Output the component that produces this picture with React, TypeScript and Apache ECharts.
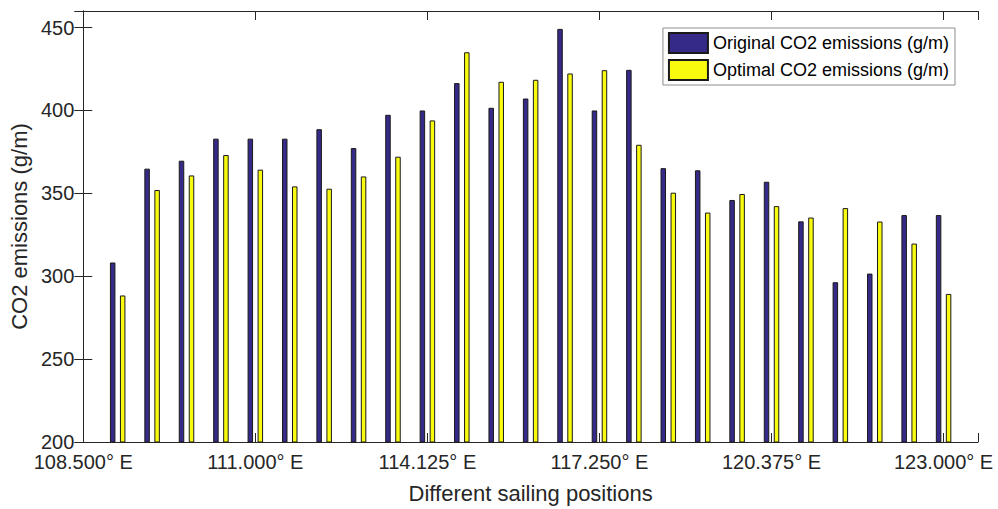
import React, { useEffect, useRef } from "react";
import * as echarts from "echarts";

const positions = [1, 2, 3, 4, 5, 6, 7, 8, 9, 10, 11, 12, 13, 14, 15, 16, 17, 18, 19, 20, 21, 22, 23, 24, 25];
const originalCO2 = [308.3, 364.9, 369.7, 383.0, 383.0, 383.0, 388.7, 377.3, 397.4, 400.0, 416.5, 401.6, 407.2, 449.2, 400.0, 424.5, 365.2, 363.9, 346.0, 357.0, 333.1, 296.4, 301.6, 336.9, 336.9];
const optimalCO2 = [288.4, 352.0, 360.8, 373.1, 364.3, 354.2, 352.8, 360.2, 372.1, 394.0, 435.1, 417.3, 418.5, 422.3, 424.3, 379.3, 350.4, 338.4, 349.6, 342.3, 335.4, 341.1, 333.0, 319.7, 289.3];
const xTickValues = [0, 5, 10, 15, 20, 25];
const xTickLabels = ["108.500° E", "111.000° E", "114.125° E", "117.250° E", "120.375° E", "123.000° E"];
const yTickLabels = [200, 250, 300, 350, 400, 450];

const FONT = "'Liberation Sans', Arial, Helvetica, sans-serif";
const AXIS_COLOR = "#262626";

export default function App() {
  const ref = useRef<HTMLDivElement>(null);
  useEffect(() => {
    if (!ref.current) return;
    const chart = echarts.init(ref.current, undefined, { renderer: "svg" });
    const axisLine = { show: true, lineStyle: { color: AXIS_COLOR, width: 1 } };
    const tickInside = { show: true, inside: true, length: 9, lineStyle: { color: AXIS_COLOR, width: 1 } };
    chart.setOption({
      animation: false,
      backgroundColor: "#ffffff",
      textStyle: { fontFamily: FONT },
      grid: { left: 82, right: 20, top: 11, bottom: 67, containLabel: false },
      legend: {
        orient: "vertical",
        right: 43,
        top: 28,
        padding: [4, 6, 4, 5],
        itemGap: 5,
        itemWidth: 39,
        itemHeight: 20,
        backgroundColor: "#ffffff",
        borderColor: "#8c8c8c",
        borderWidth: 1,
        textStyle: { fontFamily: FONT, fontSize: 18, color: "#000" },
        icon: "rect",
        data: ["Original CO2 emissions (g/m)", "Optimal CO2 emissions (g/m)"],
      },
      xAxis: [
        {
          type: "value",
          min: 0,
          max: 26,
          interval: 5,
          position: "bottom",
          axisLine,
          axisTick: tickInside,
          splitLine: { show: false },
          axisLabel: {
            fontFamily: FONT,
            fontSize: 20,
            color: AXIS_COLOR,
            margin: 10,
            formatter: (v: number) => {
              const i = xTickValues.indexOf(v);
              return i >= 0 ? xTickLabels[i] : "";
            },
          },
          name: "Different sailing positions",
          nameLocation: "middle",
          nameGap: 40,
          nameTextStyle: { fontFamily: FONT, fontSize: 22, color: AXIS_COLOR },
        },
        {
          type: "value",
          min: 0,
          max: 26,
          interval: 5,
          position: "top",
          axisLine,
          axisTick: tickInside,
          splitLine: { show: false },
          axisLabel: { show: false },
        },
      ],
      yAxis: [
        {
          type: "value",
          min: 200,
          max: 460,
          interval: 50,
          position: "left",
          axisLine,
          axisTick: tickInside,
          splitLine: { show: false },
          axisLabel: {
            fontFamily: FONT,
            fontSize: 20,
            color: AXIS_COLOR,
            margin: 9,
            formatter: (v: number) => (yTickLabels.indexOf(v) >= 0 ? String(v) : ""),
          },
          name: "CO2 emissions (g/m)",
          nameLocation: "middle",
          nameGap: 47,
          nameTextStyle: { fontFamily: FONT, fontSize: 22, color: AXIS_COLOR },
        },
        {
          type: "value",
          min: 200,
          max: 460,
          interval: 50,
          position: "right",
          axisLine,
          axisTick: tickInside,
          splitLine: { show: false },
          axisLabel: { show: false },
        },
      ],
      series: [
        {
          name: "Original CO2 emissions (g/m)",
          type: "bar",
          xAxisIndex: 0,
          yAxisIndex: 0,
          barWidth: 5.5,
          barGap: "82%",
          itemStyle: { color: "#352a87", borderColor: "#1a1a1a", borderWidth: 1 },
          data: positions.map((p, i) => [p, originalCO2[i]]),
        },
        {
          name: "Optimal CO2 emissions (g/m)",
          type: "bar",
          xAxisIndex: 0,
          yAxisIndex: 0,
          barWidth: 5.5,
          barGap: "82%",
          itemStyle: { color: "#f9fb0e", borderColor: "#1a1a1a", borderWidth: 1 },
          data: positions.map((p, i) => [p, optimalCO2[i]]),
        },
      ],
    });
    return () => chart.dispose();
  }, []);
  return <div ref={ref} style={{ width: 998, height: 509, position: "absolute", left: 0, top: 0 }} />;
}
